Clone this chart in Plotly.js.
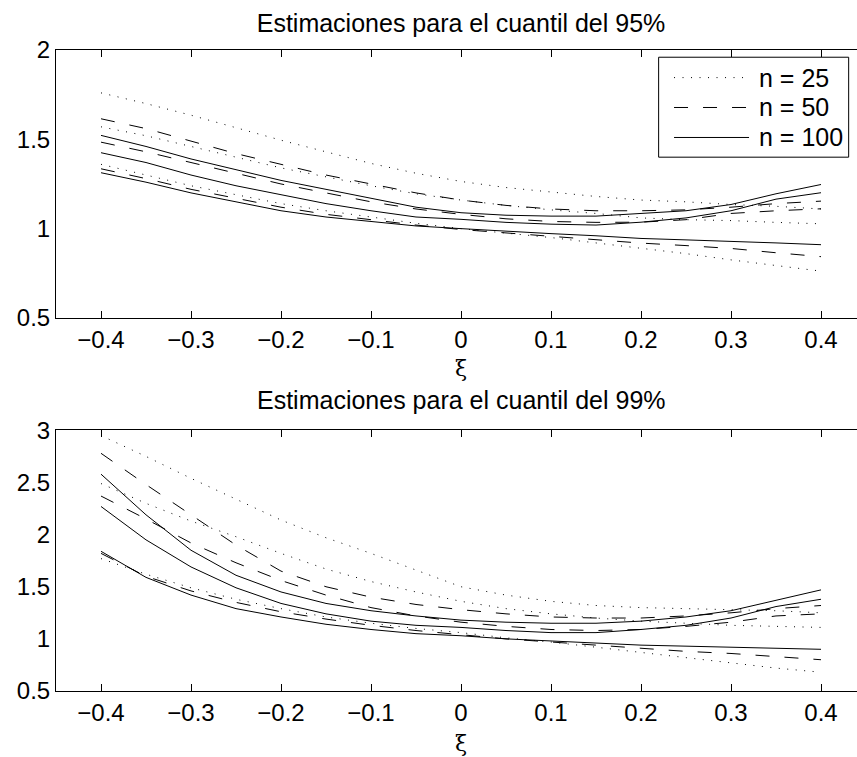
<!DOCTYPE html>
<html>
<head>
<meta charset="utf-8">
<script src="https://cdn.plot.ly/plotly-3.0.1.min.js"></script>
<style>
html,body{margin:0;padding:0;overflow:hidden;background:#fff;}
#chart{width:880px;height:757px;}
</style>
</head>
<body>
<div id="chart"></div>
<script>
// ---- data ----
const xi = [-0.4,-0.35,-0.3,-0.25,-0.2,-0.15,-0.1,-0.05,0,0.05,0.1,0.15,0.2,0.25,0.3,0.35,0.4];
const xTicks = [-0.4,-0.3,-0.2,-0.1,0,0.1,0.2,0.3,0.4];
const yTicks95 = [0.5,1,1.5,2];
const yTicks99 = [0.5,1,1.5,2,2.5,3];
const legendLabels = ['n = 25','n = 50','n = 100'];
const title95 = 'Estimaciones para el cuantil del 95%';
const title99 = 'Estimaciones para el cuantil del 99%';
const xLabel = 'ξ';

// 95% quantile
const q95_n25_up  = [1.76,1.70,1.635,1.565,1.495,1.43,1.365,1.31,1.264,1.23,1.204,1.18,1.16,1.15,1.135,1.125,1.11];
const q95_n25_mid = [1.57,1.52,1.46,1.40,1.34,1.29,1.24,1.195,1.16,1.13,1.105,1.085,1.06,1.05,1.045,1.035,1.027];
const q95_n25_low = [1.36,1.30,1.24,1.19,1.14,1.10,1.065,1.03,1.0,0.975,0.95,0.92,0.89,0.86,0.825,0.795,0.762];
const q95_n50_up  = [1.615,1.56,1.49,1.42,1.36,1.30,1.25,1.20,1.16,1.13,1.11,1.10,1.10,1.105,1.12,1.14,1.154];
const q95_n50_mid = [1.484,1.43,1.37,1.31,1.25,1.20,1.15,1.11,1.08,1.055,1.04,1.035,1.036,1.05,1.085,1.10,1.111];
const q95_n50_low = [1.335,1.28,1.22,1.17,1.12,1.08,1.05,1.02,0.995,0.975,0.955,0.935,0.919,0.905,0.889,0.865,0.843];
const q95_n100_up  = [1.522,1.46,1.39,1.33,1.27,1.22,1.17,1.12,1.089,1.075,1.07,1.07,1.085,1.10,1.135,1.195,1.247];
const q95_n100_mid = [1.425,1.37,1.30,1.24,1.19,1.14,1.10,1.065,1.052,1.035,1.025,1.02,1.036,1.06,1.10,1.165,1.201];
const q95_n100_low = [1.313,1.26,1.20,1.15,1.10,1.065,1.04,1.015,1.0,0.985,0.972,0.96,0.945,0.937,0.93,0.92,0.91];

// 99% quantile
const q99_n25_up  = [2.95,2.75,2.54,2.34,2.14,1.97,1.82,1.66,1.50,1.42,1.36,1.32,1.30,1.29,1.28,1.27,1.25];
const q99_n25_mid = [2.49,2.30,2.13,1.98,1.82,1.67,1.55,1.45,1.36,1.29,1.24,1.20,1.17,1.15,1.13,1.12,1.11];
const q99_n25_low = [1.77,1.62,1.49,1.38,1.29,1.21,1.15,1.10,1.06,1.01,0.97,0.92,0.87,0.82,0.77,0.72,0.68];
const q99_n50_up  = [2.78,2.48,2.19,1.90,1.65,1.50,1.40,1.33,1.28,1.24,1.21,1.20,1.20,1.22,1.25,1.29,1.32];
const q99_n50_mid = [2.37,2.15,1.92,1.73,1.56,1.42,1.30,1.22,1.16,1.12,1.09,1.08,1.09,1.12,1.16,1.22,1.24];
const q99_n50_low = [1.82,1.60,1.46,1.35,1.26,1.19,1.13,1.08,1.04,1.00,0.97,0.94,0.91,0.88,0.86,0.83,0.80];
const q99_n100_up  = [2.58,2.19,1.85,1.61,1.45,1.34,1.27,1.22,1.18,1.16,1.15,1.15,1.17,1.21,1.27,1.37,1.47];
const q99_n100_mid = [2.27,1.95,1.69,1.49,1.34,1.24,1.17,1.13,1.11,1.08,1.06,1.06,1.09,1.13,1.20,1.31,1.38];
const q99_n100_low = [1.84,1.59,1.42,1.29,1.21,1.14,1.09,1.05,1.03,1.00,0.98,0.96,0.94,0.93,0.92,0.91,0.90];

// ---- styles ----
const FONT = 'Liberation Sans, Arial, Helvetica, sans-serif';
const FS_TICK = 24;
const FS_TEXT = 25;
const dashes = ['1px,7.5px','14px,15px','solid'];

const groups95 = [[q95_n25_up,q95_n25_mid,q95_n25_low],[q95_n50_up,q95_n50_mid,q95_n50_low],[q95_n100_up,q95_n100_mid,q95_n100_low]];
const groups99 = [[q99_n25_up,q99_n25_mid,q99_n25_low],[q99_n50_up,q99_n50_mid,q99_n50_low],[q99_n100_up,q99_n100_mid,q99_n100_low]];

const traces = [];
function addPanel(groups, xa, ya){
  groups.forEach((g,gi)=>{
    g.forEach((ys)=>{
      traces.push({x: xi, y: ys, xaxis: xa, yaxis: ya, type:'scatter', mode:'lines',
        name: legendLabels[gi], showlegend:false, hoverinfo:'skip',
        line:{color:'#000', width:1, dash: dashes[gi]}});
    });
  });
}
addPanel(groups95,'x','y');
addPanel(groups99,'x2','y2');

function xaxisDef(anchor){
  return {range:[-0.45,0.45], tickvals:xTicks, ticks:'inside', ticklen:7, tickcolor:'#000',
    showline:true, linecolor:'#000', linewidth:1, mirror:'ticks', showgrid:false, zeroline:false,
    tickfont:{family:FONT,size:FS_TICK,color:'#000'}, anchor:anchor, fixedrange:true};
}
function yaxisDef(range, tv, domain, anchor){
  return {range:range, tickvals:tv, ticks:'',
    showline:true, linecolor:'#000', linewidth:1, mirror:true, showgrid:false, zeroline:false,
    tickfont:{family:FONT,size:FS_TICK,color:'#000'}, domain:domain, anchor:anchor, fixedrange:true};
}

// legend (drawn in top axes domain coordinates)
const shapes = [
  {type:'rect', xref:'x domain', yref:'y domain', x0:0.744, x1:0.9786, y0:0.600, y1:0.973,
   line:{color:'#000',width:1}, fillcolor:'#fff', layer:'above'}
];
const legY = [0.897,0.7854,0.6735];
const annotations = [];
legendLabels.forEach((lab,i)=>{
  shapes.push({type:'line', xref:'x domain', yref:'y domain', x0:0.763, x1:0.8556, y0:legY[i], y1:legY[i],
    line:{color:'#000', width:1, dash:dashes[i]}, layer:'above'});
  annotations.push({xref:'x domain', yref:'y domain', x:0.8654, y:legY[i], xanchor:'left', yanchor:'middle',
    text:lab, showarrow:false, font:{family:FONT,size:FS_TEXT,color:'#000'}});
});
annotations.push({xref:'paper', yref:'paper', x:0.5, y:(690.7-400)/641.2, xanchor:'center', yanchor:'middle',
  text:title99, showarrow:false, font:{family:FONT,size:FS_TEXT,color:'#000'}});
annotations.push({xref:'paper', yref:'paper', x:(461-56)/810, y:(690.7-368)/641.2, xanchor:'center', yanchor:'middle',
  text:xLabel, showarrow:false, borderpad:0, font:{family:'DejaVu Serif, Liberation Serif, serif',size:22,color:'#000'}});
annotations.push({xref:'paper', yref:'paper', x:(461-56)/810, y:(690.7-743)/641.2, xanchor:'center', yanchor:'middle',
  text:xLabel, showarrow:false, borderpad:0, font:{family:'DejaVu Serif, Liberation Serif, serif',size:22,color:'#000'}});

const layout = {
  width:880, height:757,
  margin:{l:56, r:14, t:49.5, b:66.3},
  paper_bgcolor:'#fff', plot_bgcolor:'#fff',
  showlegend:false,
  title:{text:title95, font:{family:FONT,size:FS_TEXT,color:'#000'}, xref:'paper', x:0.5, xanchor:'center',
         yref:'container', y:1-23/757, yanchor:'middle'},
  xaxis: xaxisDef('y'),
  yaxis: yaxisDef([0.5,2], yTicks95, [0.582,1], 'x'),
  xaxis2: xaxisDef('y2'),
  yaxis2: yaxisDef([0.5,3], yTicks99, [0,0.4066], 'x2'),
  shapes: shapes,
  annotations: annotations
};

Plotly.newPlot('chart', traces, layout, {displayModeBar:false, staticPlot:true});
</script>
</body>
</html>
